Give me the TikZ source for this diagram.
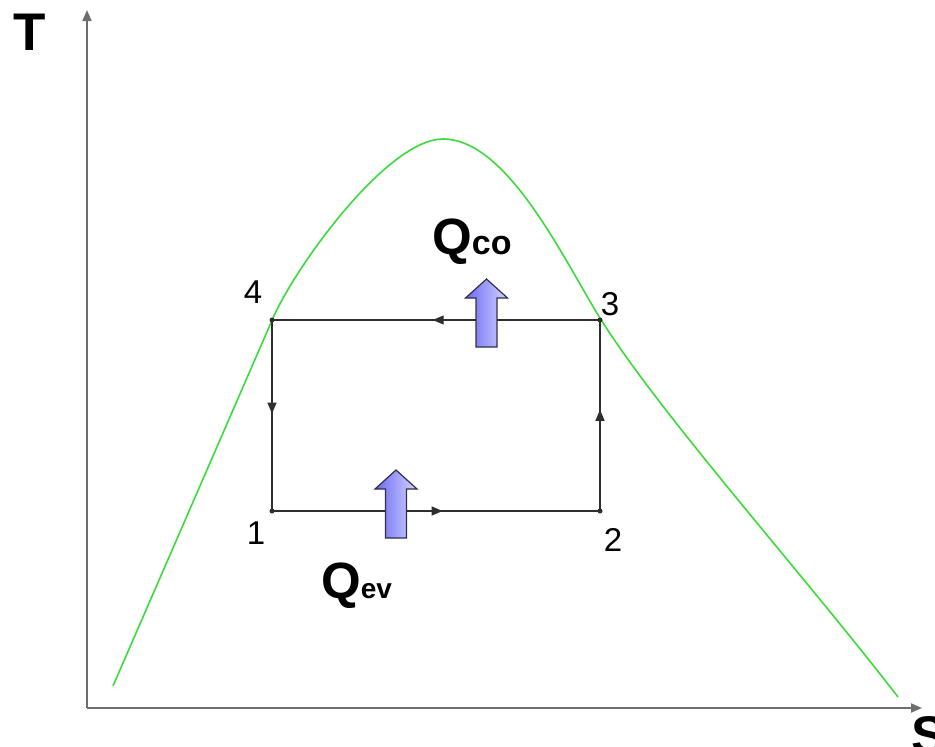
\documentclass[tikz,border=0pt]{standalone}
\usepackage{fontspec}
\setmainfont{Liberation Sans}
\usetikzlibrary{decorations.markings,arrows.meta}
\definecolor{axisgray}{HTML}{6E6E6E}
\definecolor{curvegreen}{HTML}{3ADB3A}
\definecolor{linegray}{HTML}{2E2E2E}
\definecolor{arrowleft}{HTML}{6A6AF2}
\definecolor{arrowright}{HTML}{D4D4FF}
\definecolor{arrowedge}{HTML}{30304A}
\tikzset{
  axis/.style={draw=axisgray, line width=2pt, -{Triangle[length=11pt,width=9pt]}},
  dome/.style={draw=curvegreen, line width=1.6pt},
  cycleline/.style={draw=linegray, line width=1.4pt, postaction=decorate,
    decoration={markings, mark=at position #1 with {\arrow{Triangle[length=11pt,width=9pt]}}}},
  corner/.style={circle, fill=linegray, inner sep=0pt, minimum size=5pt},
  ptlabel/.style={font=\fontsize{33}{36}\selectfont, text=black, inner sep=0pt},
  axlabel/.style={font=\fontsize{53}{60}\selectfont\bfseries, inner sep=0pt},
  heatarrow/.pic={
    \draw[arrowedge, line width=1.2pt, left color=arrowleft, right color=arrowright]
      (-10.5,0) -- (-10.5,-49) -- (-21,-49) -- (0,-68) -- (21,-49) -- (10.5,-49) -- (10.5,0) -- cycle;
  }
}
\begin{document}
\begin{tikzpicture}[x=1pt,y=-1pt]
\useasboundingbox (0,0) rectangle (935,747);
% axes
\coordinate (O) at (87,708);
\coordinate (Ttip) at (87,10);
\coordinate (Stip) at (922,708);
\draw[axis] (O) -- (Ttip);
\draw[axis] (O) -- (Stip);
\node[axlabel] (T) at (30,32) {T};
\node[axlabel] (S) at (929,735) {S};
% saturation dome
\coordinate (dA) at (113,686);
\coordinate (dB) at (273,318);
\coordinate (dTop) at (443,139);
\coordinate (dC) at (600,318);
\coordinate (dE) at (898,697);
\draw[dome] (dA) -- (dB)
  .. controls (297,264) and (388,139) .. (dTop)
  .. controls (508,139) and (565,262) .. (dC)
  .. controls (660,414) and (800,570) .. (dE);
% cycle corners
\node[corner] (p1) at (272,511) {};
\node[corner] (p2) at (600,511) {};
\node[corner] (p3) at (600,320) {};
\node[corner] (p4) at (272,320) {};
\draw[cycleline=0.52] (p1.center) -- (p2.center);
\draw[cycleline=0.53] (p2.center) -- (p3.center);
\draw[cycleline=0.51] (p3.center) -- (p4.center);
\draw[cycleline=0.49] (p4.center) -- (p1.center);
\node[ptlabel] (l4) at (253,292) {4};
\node[ptlabel] (l3) at (610,304) {3};
\node[ptlabel] (l1) at (256,533) {1};
\node[ptlabel] (l2) at (613,540) {2};
% heat arrows
\pic at (486.5,347) {heatarrow};
\pic at (396,538) {heatarrow};
\node[anchor=base west, inner sep=0pt] (Qco) at (432,254)
  {\bfseries\fontsize{51}{52}\selectfont Q\fontsize{34}{36}\selectfont co};
\node[anchor=base west, inner sep=0pt] (Qev) at (321,598)
  {\bfseries\fontsize{51}{52}\selectfont Q\fontsize{28}{30}\selectfont ev};
\end{tikzpicture}
\end{document}
